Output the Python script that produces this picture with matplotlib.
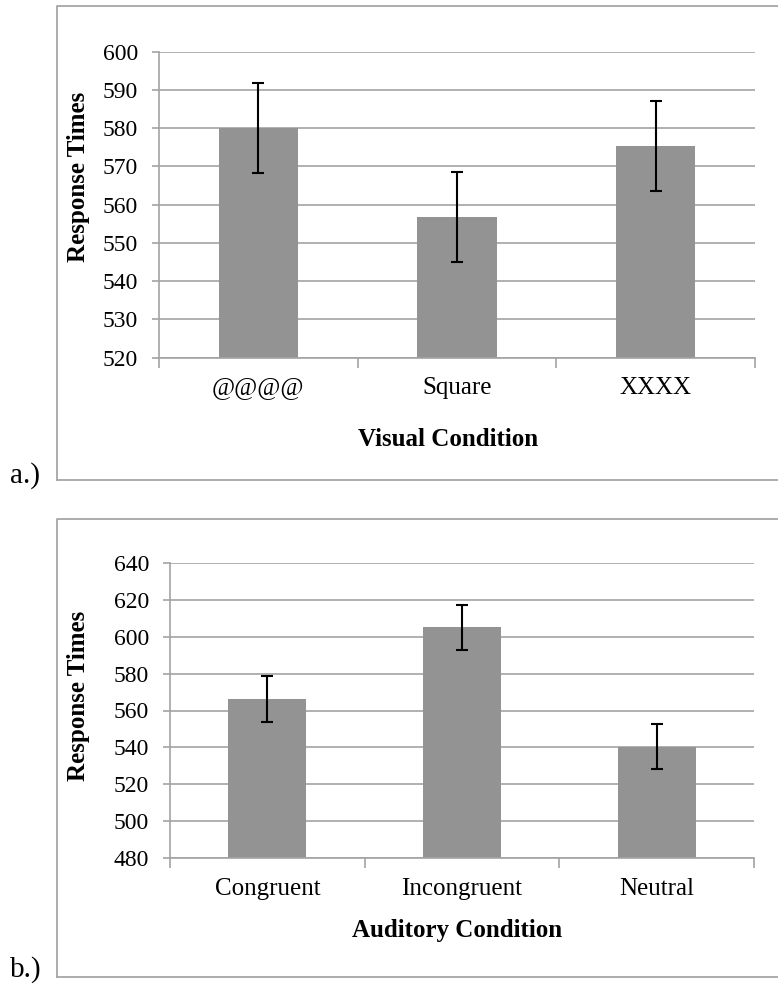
import numpy as np
import matplotlib.pyplot as plt
from matplotlib.lines import Line2D

visual_conditions = ["@@@@", "Square", "XXXX"]
visual_means = [580.0, 556.8, 575.4]
visual_err = [11.7, 11.8, 11.7]

auditory_conditions = ["Congruent", "Incongruent", "Neutral"]
auditory_means = [566.2, 605.0, 540.5]
auditory_err = [12.3, 12.3, 12.3]

W, H = 778, 989
plt.rcParams["font.family"] = ["Liberation Serif", "DejaVu Serif"]

bar_color = "#939393"
grid_color = "#a3a3a3"

fig = plt.figure(figsize=(W / 100, H / 100), dpi=100)


def px(x, y):
    return x / W, 1 - y / H


def panel(left, right, top, bottom, cats, means, errs, ylim, step):
    ax = fig.add_axes([left / W, 1 - bottom / H, (right - left) / W, (bottom - top) / H])
    x = np.arange(len(cats))
    ax.bar(x, means, width=0.4, color=bar_color, zorder=2)
    ax.errorbar(x, means, yerr=errs, fmt="none", ecolor="black", elinewidth=1.5,
                capsize=4, capthick=1.5, zorder=3)
    ax.set_xlim(-0.5, len(cats) - 0.5)
    ax.set_ylim(*ylim)
    ax.set_yticks(np.arange(ylim[0], ylim[1] + 1, step))
    ax.yaxis.grid(True, color=grid_color, linewidth=1.2, zorder=0)
    ax.set_axisbelow(True)
    ax.set_xticks(x)
    ax.set_xticklabels(cats)
    ax.set_xticks(np.arange(len(cats) + 1) - 0.5, minor=True)
    ax.tick_params(axis="x", which="major", length=0, pad=14, labelsize=18)
    ax.tick_params(axis="x", which="minor", length=7, width=1.2, color=grid_color, direction="out")
    ax.tick_params(axis="y", length=5, width=1.2, color=grid_color, pad=10, labelsize=17)
    for s in ["top", "right"]:
        ax.spines[s].set_visible(False)
    for s in ["left", "bottom"]:
        ax.spines[s].set_color(grid_color)
        ax.spines[s].set_linewidth(1.2)
    return ax


panel(159, 755, 51.7, 357.7, visual_conditions, visual_means, visual_err, (520, 600), 10)
panel(170, 754, 562.7, 858.3, auditory_conditions, auditory_means, auditory_err, (480, 640), 20)

# axis labels
fig.text(*px(448, 439), "Visual Condition", ha="center", va="center", fontsize=18, fontweight="bold")
fig.text(*px(457, 931), "Auditory Condition", ha="center", va="center", fontsize=18, fontweight="bold")
fig.text(*px(79, 177), "Response Times", ha="center", va="center", rotation=90, fontsize=18, fontweight="bold")
fig.text(*px(79, 696), "Response Times", ha="center", va="center", rotation=90, fontsize=18, fontweight="bold")

# panel letters
fig.text(*px(10, 476), "a.)", ha="left", va="center", fontsize=21)
fig.text(*px(10, 970), "b.)", ha="left", va="center", fontsize=21)

# frames around each panel (right side runs off the image)
frame_kw = dict(color="#a6a6a6", linewidth=1.3, transform=fig.transFigure)
for top, bottom, left in [(6, 479.5, 57), (519, 977, 56.5)]:
    fig.add_artist(Line2D([left / W, left / W, 1.01], [1 - bottom / H, 1 - top / H, 1 - top / H], **frame_kw))
    fig.add_artist(Line2D([left / W, 1.01], [1 - bottom / H, 1 - bottom / H], **frame_kw))

fig.savefig("out.png", dpi=100)
